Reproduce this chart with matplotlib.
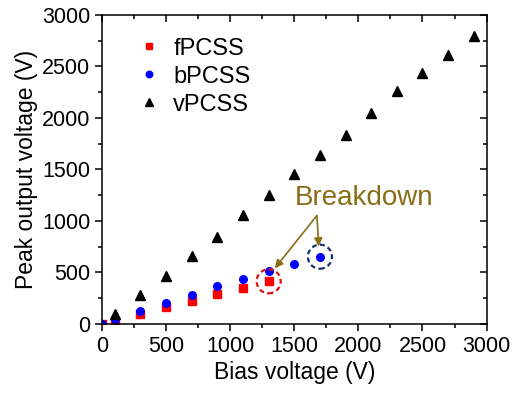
import numpy as np
import matplotlib.pyplot as plt
from matplotlib.ticker import MultipleLocator

plt.rcParams['font.family'] = ['Liberation Sans', 'DejaVu Sans']

# data
f_bias = [0, 100, 300, 500, 700, 900, 1100, 1300]
f_peak = [0, 29, 94, 165, 222, 290, 352, 413]
b_bias = [0, 100, 300, 500, 700, 900, 1100, 1300, 1500, 1700]
b_peak = [0, 50, 127, 200, 282, 367, 435, 509, 581, 652]
v_bias = [100, 300, 500, 700, 900, 1100, 1300, 1500, 1700, 1900, 2100, 2300, 2500, 2700, 2900]
v_peak = [94, 279, 460, 655, 847, 1061, 1256, 1460, 1640, 1830, 2050, 2260, 2440, 2610, 2800]

fig = plt.figure(figsize=(5.26, 3.93), dpi=100)
ax = fig.add_axes([0.194, 0.176, 0.731, 0.786])

ax.plot(f_bias, f_peak, 's', color='#ff0000', ms=5.5, label='fPCSS', ls='none')
ax.plot(b_bias, b_peak, 'o', color='#0000ff', ms=5.5, label='bPCSS', ls='none')
ax.plot(v_bias, v_peak, '^', color='black', ms=6.5, label='vPCSS', ls='none')

# breakdown circles (dashed)
ax.scatter([f_bias[-1]], [f_peak[-1]], s=300, facecolors='none', edgecolors='#dd1111',
           linewidths=1.6, linestyles=(0, (2.2, 1.5)), zorder=3)
ax.scatter([b_bias[-1]], [b_peak[-1]], s=300, facecolors='none', edgecolors='#1a2f66',
           linewidths=1.6, linestyles=(0, (2.2, 1.5)), zorder=3)

brown = '#8b6c16'
ax.text(2045, 1225, 'Breakdown', color=brown, fontsize=20, ha='center', va='center')
start = (1676, 1051)
ax.annotate('', xy=(1348, 539), xytext=start,
            arrowprops=dict(arrowstyle='-|>', color=brown, lw=1.2, mutation_scale=12,
                            shrinkA=0, shrinkB=0))
ax.annotate('', xy=(1691, 751), xytext=start,
            arrowprops=dict(arrowstyle='-|>', color=brown, lw=1.2, mutation_scale=12,
                            shrinkA=0, shrinkB=0))

ax.set_xlim(0, 3000)
ax.set_ylim(0, 3000)
ax.xaxis.set_major_locator(MultipleLocator(500))
ax.xaxis.set_minor_locator(MultipleLocator(250))
ax.yaxis.set_major_locator(MultipleLocator(500))
ax.yaxis.set_minor_locator(MultipleLocator(250))

ax.tick_params(which='both', labelsize=15.5, width=1.1)
ax.tick_params(which='both', direction='out', bottom=True, left=True)
ax.tick_params(which='major', length=5)
ax.tick_params(which='minor', length=3)
ax.tick_params(which='both', top=True, right=True)
# top/right ticks point inward
for t in ax.xaxis.get_major_ticks() + ax.xaxis.get_minor_ticks():
    t.tick2line.set_marker(3)
for t in ax.yaxis.get_major_ticks() + ax.yaxis.get_minor_ticks():
    t.tick2line.set_marker(0)
for s in ax.spines.values():
    s.set_linewidth(1.1)

ax.set_xlabel('Bias voltage (V)', fontsize=16.5, labelpad=3)
ax.set_ylabel('Peak output voltage (V)', fontsize=16.5, labelpad=3)

leg = ax.legend(loc='upper left', bbox_to_anchor=(0.035, 0.995), frameon=False,
                fontsize=17, handlelength=1.0, handletextpad=0.55, labelspacing=0.25,
                markerscale=0.85)

fig.savefig('out.png', dpi=100)
